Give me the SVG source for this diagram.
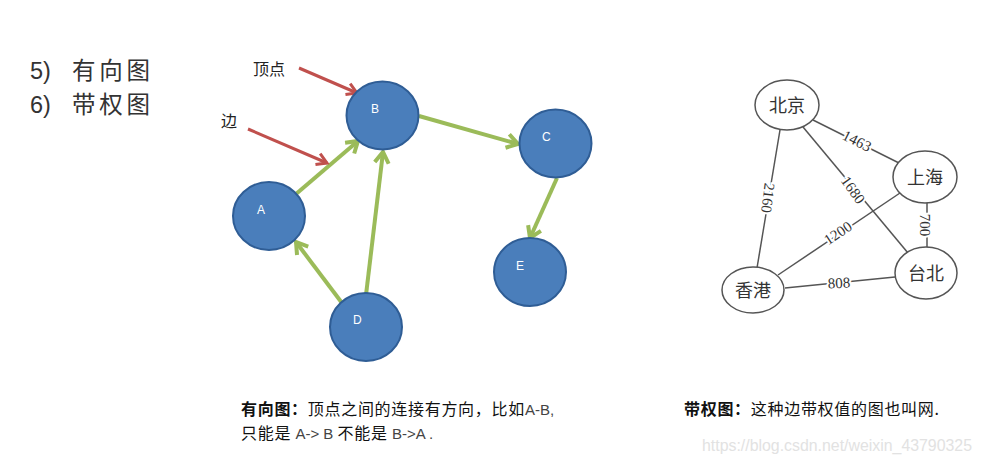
<svg xmlns="http://www.w3.org/2000/svg" width="983" height="463" viewBox="0 0 983 463">
<style>
.bg{fill:#fff}
.node{fill:#4a7ebb;stroke:#2f5d95;stroke-width:2}
.nl{font-family:"Liberation Sans",Arial,sans-serif;font-size:12px;fill:#fff}
.ge{stroke:#9bbb59;stroke-width:4;fill:none;marker-end:url(#ga)}
.re{stroke:#c0504d;stroke-width:3;fill:none;marker-end:url(#ra)}
.cj{font-family:"Noto Sans CJK SC",sans-serif;fill:#222}
.title{font-size:23.5px;fill:#333}
.lt{font-family:"Liberation Sans",sans-serif}
.wn{fill:#fff;stroke:#555;stroke-width:1.5}
.wl{font-size:18px;fill:#333}
.we{stroke:#555;stroke-width:1.5;fill:none}
.wt{font-family:"Liberation Serif",serif;font-size:15px;fill:#333;stroke:#fff;stroke-width:4;paint-order:stroke;text-anchor:middle;dominant-baseline:central}
.cap{font-family:"Noto Sans CJK SC",sans-serif;font-size:16px;fill:#111}
.lat{font-family:"Liberation Sans",Arial,sans-serif;font-size:15px;fill:#444}
</style>
<defs>
<marker id="ga" viewBox="0 0 18 18" refX="14" refY="9" markerWidth="18" markerHeight="18" markerUnits="userSpaceOnUse" orient="auto">
<path d="M3,2 L14,9 L3,16" fill="none" stroke="#9bbb59" stroke-width="4"/>
</marker>
<marker id="ra" viewBox="0 0 18 18" refX="14" refY="9" markerWidth="18" markerHeight="18" markerUnits="userSpaceOnUse" orient="auto">
<path d="M4,3 L14,9 L4,15" fill="none" stroke="#c0504d" stroke-width="3"/>
</marker>
</defs>
<rect class="bg" x="0" y="0" width="983" height="463"/>

<g id="titles">
<text class="title lt" x="30" y="79">5)</text>
<text class="cj title" x="72" y="79" textLength="78">有向图</text>
<text class="title lt" x="30" y="113">6)</text>
<text class="cj title" x="72" y="113" textLength="78">带权图</text>
</g>

<g id="connectors">
<line class="ge" x1="296" y1="194" x2="358" y2="141"/>
<line class="ge" x1="366" y1="295" x2="383" y2="152"/>
<line class="ge" x1="342" y1="303" x2="296" y2="242"/>
<line class="ge" x1="419" y1="116" x2="518" y2="144"/>
<line class="ge" x1="557" y1="178" x2="530" y2="238"/>
<line class="re" x1="299" y1="68" x2="357" y2="93"/>
<line class="re" x1="248" y1="129" x2="327" y2="163"/>
</g>

<g id="node-A"><ellipse class="node" cx="269" cy="216" rx="36" ry="34"/><text class="nl" x="257" y="214">A</text></g>
<g id="node-B"><ellipse class="node" cx="382.5" cy="115.5" rx="36" ry="34"/><text class="nl" x="371" y="113">B</text></g>
<g id="node-C"><ellipse class="node" cx="555.5" cy="143.5" rx="36" ry="34"/><text class="nl" x="542" y="141">C</text></g>
<g id="node-D"><ellipse class="node" cx="366" cy="327" rx="36" ry="34"/><text class="nl" x="353" y="324">D</text></g>
<g id="node-E"><ellipse class="node" cx="530" cy="272" rx="36" ry="34"/><text class="nl" x="516" y="270">E</text></g>

<g id="label-vertex"><text class="cj" x="253" y="75" font-size="16">顶点</text></g>
<g id="label-edge"><text class="cj" x="221" y="127" font-size="16">边</text></g>

<g id="weighted-connectors">
<line class="we" x1="813" y1="120" x2="899" y2="163"/>
<line class="we" x1="780" y1="130" x2="757" y2="268"/>
<line class="we" x1="803" y1="127" x2="908" y2="253"/>
<line class="we" x1="900" y1="193" x2="778" y2="275"/>
<line class="we" x1="927" y1="203" x2="927" y2="248"/>
<line class="we" x1="785" y1="288" x2="895" y2="277"/>
<text class="wt" transform="translate(857,141) rotate(27)">1463</text>
<text class="wt" transform="translate(768,198) rotate(97)">2160</text>
<text class="wt" transform="translate(853,190) rotate(54)">1680</text>
<text class="wt" transform="translate(838,233) rotate(-34)">1200</text>
<text class="wt" transform="translate(925,225) rotate(90)">700</text>
<text class="wt" transform="translate(839,283) rotate(-3)">808</text>
</g>

<g id="node-beijing"><ellipse class="wn" cx="787" cy="105" rx="32" ry="25"/><text class="cj wl" x="787" y="112" text-anchor="middle">北京</text></g>
<g id="node-shanghai"><ellipse class="wn" cx="925" cy="177" rx="32" ry="26"/><text class="cj wl" x="925" y="184" text-anchor="middle">上海</text></g>
<g id="node-taipei"><ellipse class="wn" cx="926" cy="273" rx="31" ry="26"/><text class="cj wl" x="926" y="280" text-anchor="middle">台北</text></g>
<g id="node-hongkong"><ellipse class="wn" cx="753" cy="290" rx="31" ry="23"/><text class="cj wl" x="753" y="297" text-anchor="middle">香港</text></g>

<g id="caption-left">
<text class="cap" x="241" y="415" letter-spacing="0.7"><tspan font-weight="bold">有向图：</tspan>顶点之间的连接有方向，比如<tspan class="lat" letter-spacing="0">A-B,</tspan></text>
<text class="cap" x="241" y="439" letter-spacing="0.7">只能是 <tspan class="lat" letter-spacing="0">A-&gt; B</tspan> 不能是 <tspan class="lat" letter-spacing="0">B-&gt;A .</tspan></text>
</g>
<g id="caption-right">
<text class="cap" x="684" y="415" letter-spacing="0.7"><tspan font-weight="bold">带权图：</tspan>这种边带权值的图也叫网.</text>
</g>
<g id="watermark">
<text x="702" y="451" font-family="Liberation Sans,Arial,sans-serif" font-size="16" fill="#e2e2e2" textLength="270" lengthAdjust="spacingAndGlyphs">https://blog.csdn.net/weixin_43790325</text>
</g>
</svg>
